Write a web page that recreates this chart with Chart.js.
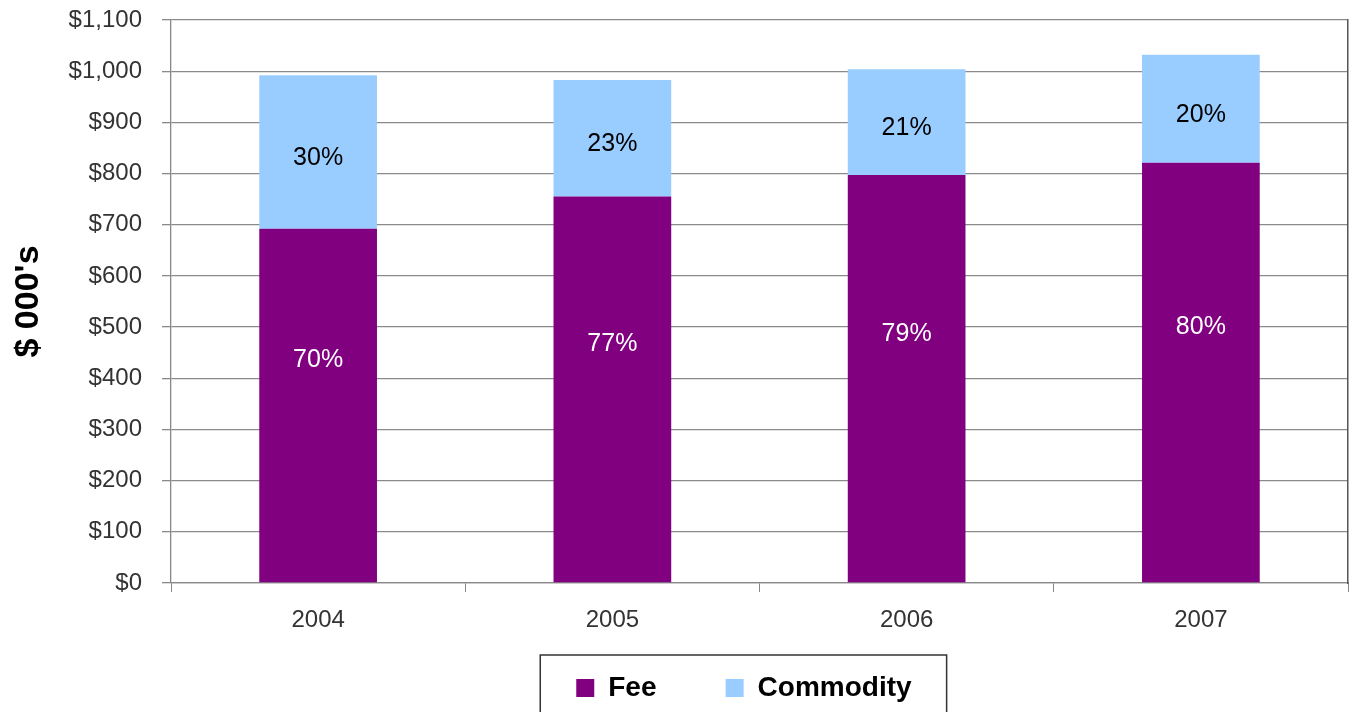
<!DOCTYPE html>
<html>
<head>
<meta charset="utf-8">
<title>Fee vs Commodity</title>
<script src="https://cdn.jsdelivr.net/npm/chart.js@4.4.1/dist/chart.umd.min.js"></script>
<style>
  html, body { margin: 0; padding: 0; background: #fff; overflow: hidden; }
  #chart { display: block; }
</style>
</head>
<body>
<canvas id="chart" width="1350" height="712"></canvas>
<script>
// data ($ 000's)
const years = ['2004', '2005', '2006', '2007'];
const feeValues = [692, 755, 797, 821];
const commodityValues = [300, 228, 207, 211];
const seriesNames = ['Fee', 'Commodity'];
const yMax = 1100;
const yStep = 100;

const FONT = "'Liberation Sans', Arial, sans-serif";
const LEGEND_FONT = { family: FONT, size: 28, weight: 'bold' };
const LEGEND_BOX = 18;
// trailing spaces widen each legend item (gap between entries)
const legendGap = ['    ', '    '];

// percent of the year's total, written inside each bar segment
const pctLabels = {
  id: 'pctLabels',
  afterDatasetsDraw(chart) {
    const ctx = chart.ctx;
    ctx.save();
    ctx.font = '25px ' + FONT;
    ctx.textAlign = 'center';
    ctx.textBaseline = 'middle';
    chart.data.datasets.forEach((ds, di) => {
      const meta = chart.getDatasetMeta(di);
      meta.data.forEach((bar, i) => {
        const total = feeValues[i] + commodityValues[i];
        const pct = Math.round(ds.data[i] / total * 100) + '%';
        const mid = (bar.y + bar.base) / 2;
        ctx.fillStyle = di === 0 ? '#ffffff' : '#000000';
        ctx.fillText(pct, bar.x, di === 0 ? mid - 45 : mid + 6);
      });
    });
    ctx.restore();
  }
};

// frame around the legend (runs off the bottom edge)
const legendFrame = {
  id: 'legendFrame',
  afterDraw(chart) {
    const lg = chart.legend;
    if (!lg || !lg.legendHitBoxes.length) return;
    const boxes = lg.legendHitBoxes;
    const first = boxes[0];
    const last = boxes[boxes.length - 1];
    const ctx = chart.ctx;
    ctx.save();
    ctx.font = 'bold 28px ' + FONT;
    const lastText = seriesNames[seriesNames.length - 1];
    const right = last.left + LEGEND_BOX + 14 + ctx.measureText(lastText).width + 35;
    const left = first.left - 36;
    const cy = first.top + first.height / 2;
    ctx.strokeStyle = '#333';
    ctx.lineWidth = 1.5;
    ctx.strokeRect(left, cy - 33, right - left, chart.height);
    ctx.restore();
  }
};

new Chart(document.getElementById('chart'), {
  type: 'bar',
  data: {
    labels: years,
    datasets: [{
      label: seriesNames[0],
      data: feeValues,
      backgroundColor: '#800080',
      borderWidth: 0
    }, {
      label: seriesNames[1],
      data: commodityValues,
      backgroundColor: '#99ccff',
      borderWidth: 0
    }]
  },
  options: {
    responsive: false,
    animation: false,
    devicePixelRatio: 1,
    layout: { padding: { top: 20, right: 2, bottom: 0, left: 0 } },
    datasets: {
      bar: { categoryPercentage: 1, barPercentage: 0.4 }
    },
    scales: {
      x: {
        stacked: true,
        grid: { offset: true, drawOnChartArea: false, drawTicks: true, tickLength: 9, color: '#888' },
        border: { color: '#888', width: 1.3 },
        ticks: { color: '#333', font: { family: FONT, size: 24 }, padding: 14 },
        afterFit(s) { s.height = 53; }
      },
      y: {
        stacked: true,
        min: 0,
        max: yMax,
        grid: { color: '#8a8a8a', lineWidth: 1.3, tickLength: 9 },
        border: { color: '#888', width: 1.3 },
        ticks: {
          stepSize: yStep,
          color: '#333',
          padding: 20,
          font: { family: FONT, size: 24 },
          callback: v => '$' + v.toLocaleString('en-US')
        },
        title: {
          display: true,
          text: "$ 000's",
          color: '#000',
          font: { family: FONT, size: 34, weight: 'bold' },
          padding: { top: 8, bottom: 0 }
        },
        afterFit(s) {
          s.width = 171;
          // the tick padding would otherwise push the plot down
          s.paddingTop = 0;
          s.paddingBottom = 0;
        }
      },
      yRight: {
        position: 'right',
        min: 0,
        max: yMax,
        grid: { display: false },
        ticks: { display: false },
        border: { display: true, color: '#555', width: 1.5 },
        afterFit(s) { s.width = 0; }
      }
    },
    plugins: {
      legend: {
        position: 'bottom',
        fullSize: false,
        labels: {
          color: '#000',
          boxWidth: LEGEND_BOX,
          boxHeight: LEGEND_BOX,
          padding: 38,
          font: LEGEND_FONT,
          generateLabels(chart) {
            const items = Chart.defaults.plugins.legend.labels.generateLabels(chart);
            items.forEach((it, i) => { it.text = it.text + legendGap[i]; });
            return items;
          }
        }
      },
      tooltip: { enabled: false }
    }
  },
  plugins: [pctLabels, legendFrame]
});
</script>
</body>
</html>
